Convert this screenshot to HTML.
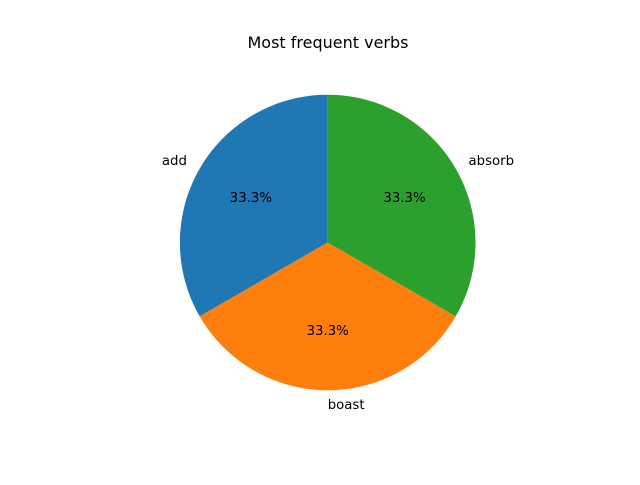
<!DOCTYPE html>
<html><head><meta charset="utf-8"><style>
body{margin:0;background:#fff;}
svg text{font-family:"DejaVu Sans","Liberation Sans",sans-serif;}
</style></head><body>
<svg id="chart" width="640" height="480" viewBox="0 0 640 480" xmlns="http://www.w3.org/2000/svg">
<rect width="640" height="480" fill="#fff"/>
<text x="328" y="48" text-anchor="middle" font-size="16" fill="#000">Most frequent verbs</text>
<g id="slices"></g>
</svg>
<script>
const labels = ["add", "boast", "absorb"];
const values = [1, 1, 1];
const colors = ["#1f77b4", "#ff7f0e", "#2ca02c"];
const cx = 327.7, cy = 242.5, R = 147.8, startAngle = 90;
const ns = "http://www.w3.org/2000/svg";
const g = document.getElementById("slices");
const total = values.reduce((a, b) => a + b, 0);
function pt(deg, r) { const a = deg * Math.PI / 180; return [cx + r * Math.cos(a), cy - r * Math.sin(a)]; }
let ang = startAngle;
values.forEach((v, i) => {
  const sweep = v / total * 360;
  const a0 = ang, a1 = ang + sweep;
  const p0 = pt(a0, R), p1 = pt(a1, R);
  const large = sweep > 180 ? 1 : 0;
  const path = document.createElementNS(ns, "path");
  path.setAttribute("d", `M${cx},${cy} L${p0[0]},${p0[1]} A${R},${R} 0 ${large} 0 ${p1[0]},${p1[1]} Z`);
  path.setAttribute("fill", colors[i % colors.length]);
  
  
  g.appendChild(path);
  const mid = (a0 + a1) / 2;
  const lp = pt(mid, R * 1.1);
  const cosm = Math.cos(mid * Math.PI / 180);
  const t = document.createElementNS(ns, "text");
  t.setAttribute("x", lp[0]); t.setAttribute("y", lp[1] + 4);
  t.setAttribute("font-size", "13.3");
  t.setAttribute("text-anchor", cosm < -1e-6 ? "end" : "start");
  t.textContent = labels[i];
  
  
  g.appendChild(t);
  const pp = pt(mid, R * 0.6);
  const pc = document.createElementNS(ns, "text");
  pc.setAttribute("x", pp[0]); pc.setAttribute("y", pp[1] + 4);
  pc.setAttribute("font-size", "13.3");
  pc.setAttribute("text-anchor", "middle");
  pc.textContent = (v / total * 100).toFixed(1) + "%";
  
  
  g.appendChild(pc);
  ang = a1;
});
</script>
</body></html>
